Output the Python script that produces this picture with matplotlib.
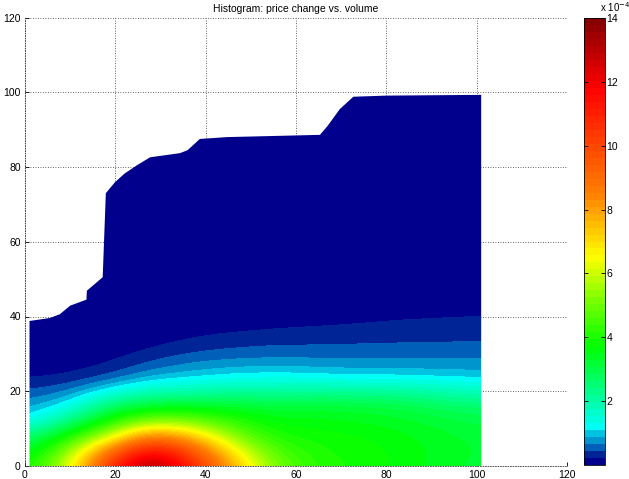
import numpy as np
import matplotlib
matplotlib.use("Agg")
import matplotlib.pyplot as plt
from matplotlib.colors import ListedColormap, Normalize, to_rgb
from matplotlib.patches import Polygon

plt.rcParams["font.family"] = ["Liberation Sans", "DejaVu Sans"]
plt.rcParams["font.size"] = 7.5

# == coarse density table (units of 1e-4) == #
vol_x = [1, 10, 19, 28, 37, 46, 55, 64, 73, 82, 91, 100]
chg_y = [0, 4, 8, 12, 16, 20, 24, 28, 32, 36, 40, 44]
row_y0 = [3.8, 6.1, 10.8, 14.0, 11.0, 7.8, 5.1, 4.1, 3.9, 3.7, 3.4, 3.2]
row_y4 = [3.2, 5.4, 9.0, 12.0, 9.8, 6.7, 4.6, 4.0, 3.85, 3.7, 3.45, 3.25]
row_y8 = [2.5, 3.9, 6.0, 8.9, 7.5, 5.3, 4.0, 3.85, 3.75, 3.6, 3.4, 3.2]
row_y12 = [1.15, 2.4, 4.0, 5.4, 5.1, 4.2, 3.6, 3.6, 3.5, 3.4, 3.2, 3.0]
row_y16 = [0.77, 1.25, 2.7, 3.3, 3.3, 3.3, 3.1, 3.2, 3.15, 3.05, 2.8, 2.6]
row_y20 = [0.46, 0.63, 1.3, 1.8, 1.9, 2.1, 2.05, 2.15, 2.1, 2.1, 1.95, 1.75]
row_y24 = [0.17, 0.22, 0.44, 0.85, 1.0, 1.15, 1.2, 1.15, 1.05, 1.07, 1.02, 0.98]
row_y28 = [0.07, 0.1, 0.18, 0.44, 0.63, 0.7, 0.72, 0.7, 0.7, 0.7, 0.69, 0.69]
row_y32 = [0.02, 0.04, 0.07, 0.18, 0.32, 0.4, 0.45, 0.45, 0.46, 0.48, 0.48, 0.49]
row_y36 = [0.0, 0.01, 0.02, 0.07, 0.15, 0.2, 0.24, 0.27, 0.29, 0.3, 0.32, 0.34]
row_y40 = [0.0, 0.0, 0.0, 0.02, 0.06, 0.08, 0.1, 0.12, 0.15, 0.2, 0.21, 0.23]
row_y44 = [0.0, 0.0, 0.0, 0.0, 0.01, 0.02, 0.02, 0.03, 0.05, 0.06, 0.07, 0.08]
n_empty_rows = 14  # y = 48 .. 100, all ~0

# == top edge of the populated region (above it: no data) == #
edge_x = [1, 5.5, 7.7, 10, 12.9, 13.6, 13.7, 17, 17.2, 17.9, 19.9, 22, 24.7, 27.7,
          34.3, 36, 38.7, 44.7, 65.3, 67, 69.7, 72.7, 80, 101]
edge_y = [38.8, 39.6, 40.6, 42.9, 44.2, 44.5, 46.9, 50.3, 50.5, 73, 75.9, 78.2, 80.4,
          82.6, 83.7, 84.5, 87.5, 88, 88.6, 91, 95.5, 98.8, 99.1, 99.3]

# == colormap: 64 levels, compressed blue end == #
band_colors = ["#00008c", "#002396", "#005fb9", "#0096cd", "#00c3e1"]
anchor_v = [1.094, 2.4, 3.7, 5.2, 6.5, 8.5, 11.8, 14.0]
anchor_c = ["#00ffff", "#00ff80", "#00ff00", "#80ff00", "#ffff00", "#ff8000",
            "#ff0000", "#800000"]
vmax = 14.0
n_lev = 64
anchor_rgb = np.array([to_rgb(c) for c in anchor_c])
colors = []
for i in range(n_lev):
    if i < len(band_colors):
        colors.append(to_rgb(band_colors[i]))
    else:
        v = (i + 0.5) * vmax / n_lev
        colors.append(tuple(np.interp(v, anchor_v, anchor_rgb[:, k]) for k in range(3)))
cmap = ListedColormap(colors)

field = np.array([row_y0, row_y4, row_y8, row_y12, row_y16, row_y20, row_y24,
                  row_y28, row_y32, row_y36, row_y40, row_y44])
field = np.vstack([field, np.zeros((n_empty_rows, len(vol_x)))])
dx = vol_x[1] - vol_x[0]
dy = chg_y[1] - chg_y[0]
y_top = chg_y[0] + dy * (field.shape[0] - 1)

fig = plt.figure(figsize=(6.29, 4.79), dpi=100)
ax = fig.add_axes([25 / 629, 13 / 479, 542 / 629, 448.5 / 479])
ax.set_axisbelow(True)

im = ax.imshow(field, origin="lower", cmap=cmap, norm=Normalize(0, vmax),
               extent=[vol_x[0] - dx / 2, vol_x[-1] + dx / 2, chg_y[0] - dy / 2, y_top + dy / 2],
               interpolation="bicubic", interpolation_stage="data", aspect="auto", zorder=1)
region = Polygon(np.column_stack([edge_x + [edge_x[-1], edge_x[0]], edge_y + [0, 0]]),
                 closed=True, transform=ax.transData, facecolor="none", edgecolor="none")
im.set_clip_path(region)

ax.set_xlim(0, 120)
ax.set_ylim(0, 120)
ax.set_xticks(range(0, 121, 20))
ax.set_yticks(range(0, 121, 20))
ax.grid(True, linestyle=(0, (1, 2)), color="#333333", linewidth=0.6)
ax.tick_params(direction="in", length=3, width=0.6, pad=3, colors="black")
for side in ["top", "right"]:
    ax.spines[side].set_visible(False)
for side in ["left", "bottom"]:
    ax.spines[side].set_linestyle((0, (1, 2)))
    ax.spines[side].set_linewidth(0.6)
    ax.spines[side].set_color("#333333")
ax.set_title("Histogram: price change vs. volume", fontsize=7.5, pad=4)

cax = fig.add_axes([584 / 629, 14 / 479, 21 / 629, 447 / 479])
cb = fig.colorbar(im, cax=cax, ticks=list(range(2, 15, 2)))
cb.outline.set_linewidth(0.6)
cax.tick_params(direction="in", length=3, width=0.6, left=True, right=True, pad=1)
fig.text(600 / 629, 1 - 12 / 479, r"x 10$^{-4}$", fontsize=7, va="baseline")

fig.savefig("out.png", dpi=100)
